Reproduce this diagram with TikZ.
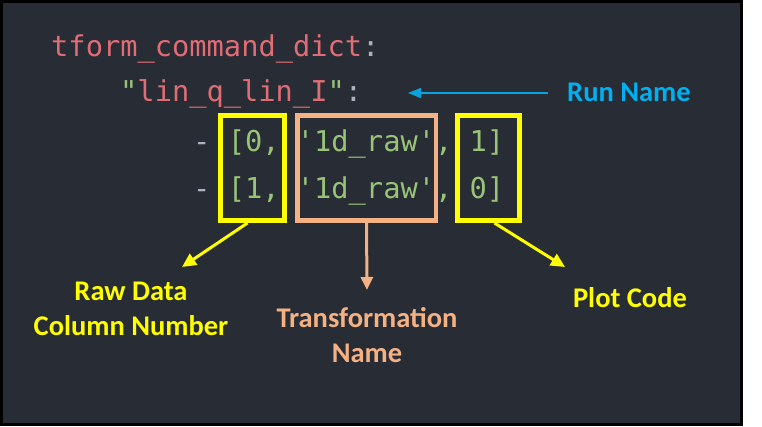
\documentclass[tikz,border=0pt]{standalone}
\usepackage{fontspec}
\setmainfont{Carlito}
\setmonofont{DejaVu Sans Mono}
\usetikzlibrary{arrows.meta,calc}
\definecolor{bgdark}{HTML}{282C34}
\definecolor{codered}{HTML}{E06C75}
\definecolor{codegreen}{HTML}{98C379}
\definecolor{codegray}{HTML}{ABB2BF}
\definecolor{hlyellow}{HTML}{FFFF00}
\definecolor{hlorange}{HTML}{F4B183}
\definecolor{hlblue}{HTML}{00B0F0}
\definecolor{arrblue}{HTML}{0AA2DC}
\begin{document}
\begin{tikzpicture}[x=1pt,y=-1pt,
  codeline/.style={anchor=base west, inner sep=0pt, font=\ttfamily\fontsize{28.7}{34}\selectfont},
  lbltext/.style={inner sep=0pt, font=\fontsize{28.5}{35}\selectfont\bfseries, align=center},
  hlbox/.style={draw=#1, line width=5pt, minimum height=105pt, inner sep=0pt},
  yarrow/.style={draw=hlyellow, line width=3pt, -{Triangle[length=14pt,width=13pt]}},
  oarrow/.style={draw=hlorange, line width=3pt, -{Triangle[length=13pt,width=12pt]}},
  barrow/.style={draw=arrblue, line width=1.5pt, -{Triangle[length=13pt,width=10pt]}}]
\useasboundingbox (0,0) rectangle (762,427);
\fill[white] (0,0) rectangle (762,427);
\draw[line width=3pt, fill=bgdark] (1.5,1.5) rectangle (741.5,424.5);

% code text
\node[codeline] (l1) at (51,57) {\textcolor{codered}{tform\_command\_dict}\textcolor{codegray}{:}};
\node[codeline] (l2) at (120,102) {\textcolor{codegreen}{"}\textcolor{codered}{lin\_q\_lin\_I}\textcolor{codegreen}{"}\textcolor{codegray}{:}};
\node[codeline] (l3) at (193,152) {\textcolor{codegray}{-} \textcolor{codegreen}{[0, '1d\_raw', 1]}};
\node[codeline] (l4) at (193,199) {\textcolor{codegray}{-} \textcolor{codegreen}{[1, '1d\_raw', 0]}};

% highlight boxes
\node[hlbox=hlyellow, minimum width=64pt] (b1) at (252.5,168) {};
\node[hlbox=hlorange, line width=4.5pt, minimum width=138.5pt] (b2) at (366.5,168) {};
\node[hlbox=hlyellow, minimum width=62pt] (b3) at (488.5,168) {};

% labels
\node[lbltext, text=hlblue, anchor=base west] (run) at (567,102) {Run Name};
\node[lbltext, text=hlyellow, anchor=base] (raw) at (131,335) {Raw Data\\Column Number};
\node[lbltext, text=hlorange, anchor=base] (trans) at (367,362) {Transformation\\Name};
\node[lbltext, text=hlyellow, anchor=base] (plot) at (630,307) {Plot Code};

% arrows
\coordinate (runtail) at (548,93);
\coordinate (runtip) at (408,93);
\draw[barrow] (runtail) -- (runtip);
\coordinate (rawtip) at (182,267);
\draw[yarrow] ($(b1.south)+(-5,0)$) -- (rawtip);
\coordinate (transtip) at (367,290);
\draw[oarrow] (b2.south) -- (transtip);
\coordinate (plottip) at (565,267);
\draw[yarrow] ($(b3.south)+(6,0)$) -- (plottip);
\end{tikzpicture}
\end{document}
